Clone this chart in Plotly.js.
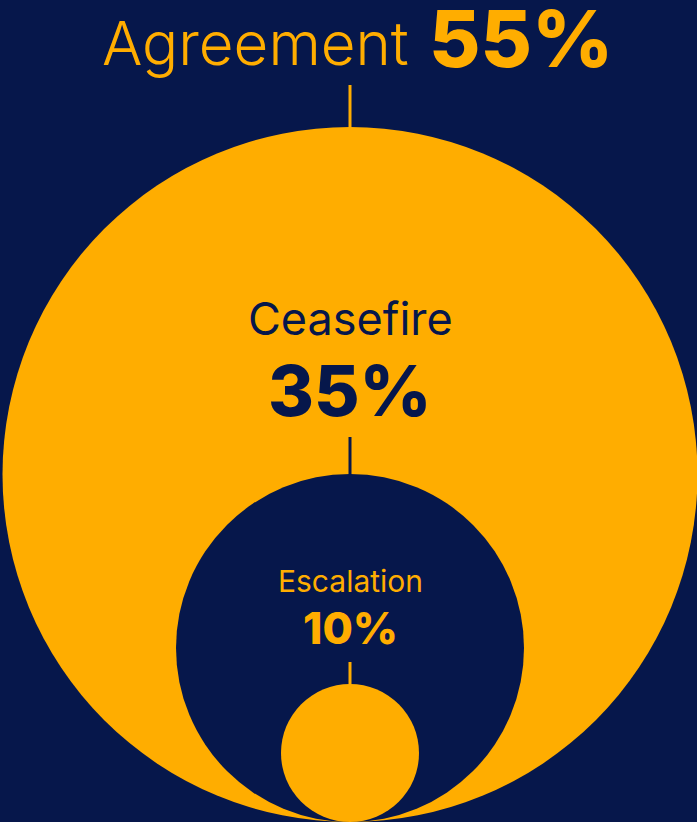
<!DOCTYPE html>
<html><head><meta charset="utf-8">
<script src="https://cdn.plot.ly/plotly-3.0.1.min.js"></script>
<style>html,body{margin:0;padding:0;background:#06174B;}#c{width:697px;height:822px;}</style>
</head><body><div id="c"></div>
<script>
const categories = ["Agreement", "Ceasefire", "Escalation"];
const values = [55, 35, 10];
const valueLabels = values.map(v => v + "%");

const NAVY = "#06174B", GOLD = "#FFAD00";
// circle geometry (pixel space)
const circles = [
  {cx: 350, cy: 474.5, r: 347.5, fill: GOLD},
  {cx: 350, cy: 648, r: 174, fill: NAVY},
  {cx: 350, cy: 753, r: 69, fill: GOLD}
];
const shapes = circles.map(c => ({type: "circle", xref: "x", yref: "y",
  x0: c.cx - c.r, x1: c.cx + c.r, y0: c.cy - c.r, y1: c.cy + c.r,
  fillcolor: c.fill, line: {width: 0}, layer: "below"}));
// connector lines
const lines = [
  {y0: 85, y1: 128, color: GOLD},
  {y0: 437, y1: 475, color: NAVY},
  {y0: 662, y1: 685, color: GOLD}
];
lines.forEach(l => shapes.push({type: "line", xref: "x", yref: "y", x0: 350, x1: 350,
  y0: l.y0, y1: l.y1, line: {color: l.color, width: 3}}));

const FONT = "Inter, 'Open Sans', sans-serif";
const annotations = [
  {x: 411, y: 43, text: categories[0], xanchor: "right", yanchor: "middle",
   font: {family: FONT, size: 60, color: GOLD, weight: 300}},
  {x: 427, y: 38, text: valueLabels[0], xanchor: "left", yanchor: "middle",
   font: {family: FONT, size: 79, color: GOLD, weight: 800}},
  {x: 350, y: 318, text: categories[1], xanchor: "center", yanchor: "middle",
   font: {family: FONT, size: 45, color: NAVY, weight: 400}},
  {x: 350, y: 390, text: valueLabels[1], xanchor: "center", yanchor: "middle",
   font: {family: FONT, size: 70, color: NAVY, weight: 800}},
  {x: 350, y: 581, text: categories[2], xanchor: "center", yanchor: "middle",
   font: {family: FONT, size: 30, color: GOLD, weight: 400}},
  {x: 350, y: 628, text: valueLabels[2], xanchor: "center", yanchor: "middle",
   font: {family: FONT, size: 44, color: GOLD, weight: 800}}
].map(a => Object.assign({xref: "x", yref: "y", showarrow: false}, a));

Plotly.newPlot("c", [{x: [0], y: [0], mode: "markers", marker: {opacity: 0}, hoverinfo: "skip", showlegend: false}], {
  width: 697, height: 822,
  margin: {l: 0, r: 0, t: 0, b: 0},
  paper_bgcolor: NAVY, plot_bgcolor: NAVY,
  xaxis: {range: [0, 697], visible: false, fixedrange: true},
  yaxis: {range: [822, 0], visible: false, fixedrange: true},
  shapes: shapes, annotations: annotations, showlegend: false
}, {displayModeBar: false, staticPlot: true});
</script></body></html>
